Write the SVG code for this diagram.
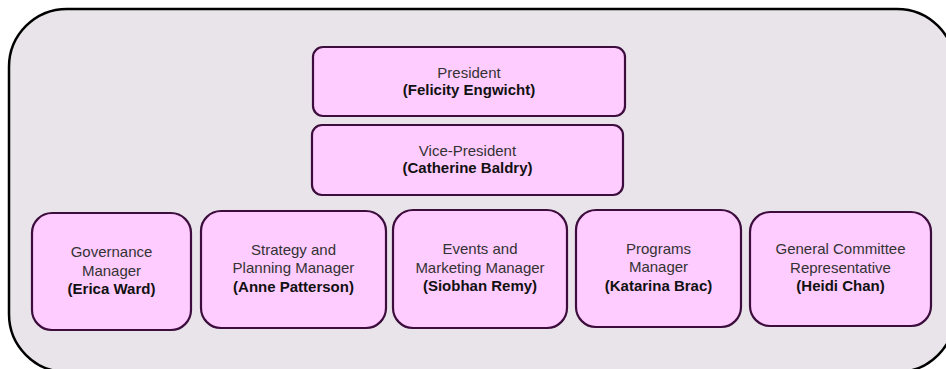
<svg xmlns="http://www.w3.org/2000/svg" width="946" height="369" viewBox="0 0 946 369">
  <style>
    .container { fill: #e8e4ea; stroke: #000000; stroke-width: 2.5; }
    .node { fill: #ffccff; stroke: #3d0d3d; stroke-width: 2.2; }
    text { font-family: "Liberation Sans", Arial, sans-serif; font-size: 15px; text-anchor: middle; }
    .role { fill: #333333; }
    .name { fill: #111111; font-weight: bold; }
  </style>
  <rect width="946" height="369" fill="#ffffff"/>
  <g id="container">
    <rect class="container" x="9" y="9" width="946" height="363" rx="58" ry="58"/>
  </g>
  <g id="connectors"></g>
  <g id="president">
    <rect class="node" x="313" y="47" width="312" height="69" rx="10" ry="10"/>
    <text x="469" y="77.5" class="role">President</text>
    <text x="469" y="94.5" class="name">(Felicity Engwicht)</text>
  </g>
  <g id="vice-president">
    <rect class="node" x="312" y="125" width="311" height="70" rx="10" ry="10"/>
    <text x="467.5" y="155.5" class="role">Vice-President</text>
    <text x="467.5" y="172.5" class="name">(Catherine Baldry)</text>
  </g>
  <g id="governance">
    <rect class="node" x="32" y="213" width="159" height="117" rx="20" ry="20"/>
    <text x="111.5" y="257" class="role">Governance</text>
    <text x="111.5" y="275.5" class="role">Manager</text>
    <text x="111.5" y="294" class="name">(Erica Ward)</text>
  </g>
  <g id="strategy">
    <rect class="node" x="201" y="211" width="185" height="117" rx="20" ry="20"/>
    <text x="293.5" y="254.5" class="role">Strategy and</text>
    <text x="293.5" y="273" class="role">Planning Manager</text>
    <text x="293.5" y="291.5" class="name">(Anne Patterson)</text>
  </g>
  <g id="events">
    <rect class="node" x="393" y="210" width="174" height="118" rx="20" ry="20"/>
    <text x="480" y="254" class="role">Events and</text>
    <text x="480" y="272.5" class="role">Marketing Manager</text>
    <text x="480" y="291" class="name">(Siobhan Remy)</text>
  </g>
  <g id="programs">
    <rect class="node" x="576" y="210" width="165" height="117" rx="20" ry="20"/>
    <text x="658.5" y="253.5" class="role">Programs</text>
    <text x="658.5" y="272" class="role">Manager</text>
    <text x="658.5" y="290.5" class="name">(Katarina Brac)</text>
  </g>
  <g id="general">
    <rect class="node" x="750" y="212" width="181" height="114" rx="20" ry="20"/>
    <text x="840.5" y="254" class="role">General Committee</text>
    <text x="840.5" y="272.5" class="role">Representative</text>
    <text x="840.5" y="291" class="name">(Heidi Chan)</text>
  </g>
</svg>
